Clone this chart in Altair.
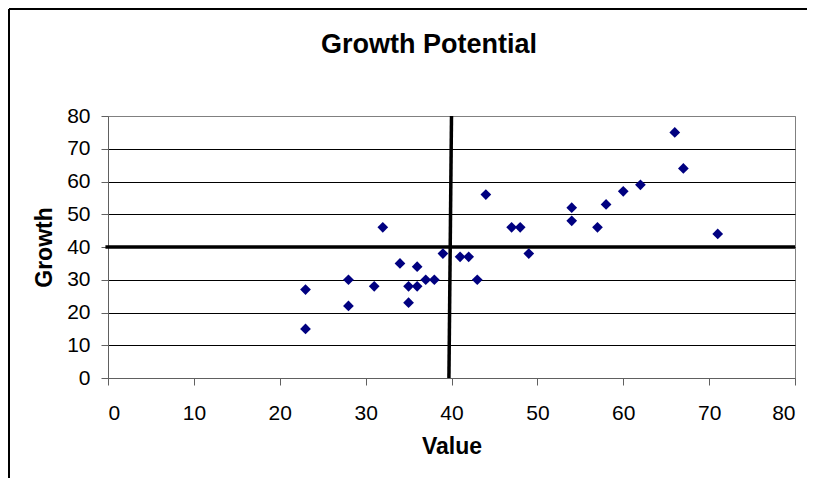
import altair as alt
import pandas as pd

# Data
value = [23, 23, 28, 28, 31, 32, 34, 36, 35, 36, 35, 37, 38, 39, 41, 42, 43, 44, 47, 48,
         49, 54, 54, 57, 58, 60, 62, 66, 67, 71]
growth = [27, 15, 30, 22, 28, 46, 35, 34, 28, 28, 23, 30, 30, 38, 37, 37, 30, 56, 46, 46,
          38, 52, 48, 46, 53, 57, 59, 75, 64, 44]
tick_values = [0, 10, 20, 30, 40, 50, 60, 70, 80]
chart_title = ["Growth Potential"]

# Quadrant reference lines
vline_x = [39.7, 40.0]
vline_y = [0, 80]
hline_x = [-0.3, 80]
hline_y = [40, 40]

FONT = "Liberation Sans"

df = pd.DataFrame({"Value": value, "Growth": growth})
vdf = pd.DataFrame({"Value": vline_x, "Growth": vline_y})
hdf = pd.DataFrame({"Value": hline_x, "Growth": hline_y})
tdf = pd.DataFrame({"t": chart_title})
one = pd.DataFrame({"a": [0]})

xscale = alt.Scale(domain=[0, 80], nice=False, zero=False)
yscale = alt.Scale(domain=[0, 80], nice=False, zero=False)

xaxis = alt.Axis(
    values=tick_values, grid=False, title="Value",
    labelFont=FONT, labelFontSize=21, labelColor="black", labelPadding=17,
    tickSize=7, tickColor="#606060", domainColor="#606060",
    titleFont=FONT, titleFontSize=23, titleFontWeight="bold", titleColor="black",
    titleY=68, titleBaseline="middle",
)
yaxis = alt.Axis(
    values=tick_values, grid=True, title="Growth",
    gridColor={"condition": {"test": "datum.value == 80 || datum.value == 0", "value": "#808080"},
               "value": "#000000"},
    gridWidth=1,
    labelFont=FONT, labelFontSize=21, labelColor="black", labelPadding=11,
    tickSize=7, tickColor="#606060", domainColor="#606060",
    titleFont=FONT, titleFontSize=23, titleFontWeight="bold", titleColor="black",
    titleX=-64, titleY=131, titleBaseline="middle", titleAngle=270,
)

enc = dict(
    x=alt.X("Value:Q", scale=xscale, axis=xaxis),
    y=alt.Y("Growth:Q", scale=yscale, axis=yaxis),
)

vline = alt.Chart(vdf).mark_line(color="black", strokeWidth=3.5).encode(**enc)
hline = alt.Chart(hdf).mark_line(color="black", strokeWidth=3.5).encode(**enc)
points = alt.Chart(df).mark_point(
    shape="diamond", filled=True, size=115, color="#000080", opacity=1
).encode(**enc)

title_text = alt.Chart(tdf).mark_text(
    font=FONT, fontSize=27, fontWeight="bold", color="black",
    align="center", baseline="alphabetic",
).encode(text="t:N", x=alt.value(321), y=alt.value(-63))

border_left = alt.Chart(one).mark_rule(color="black", strokeWidth=2).encode(
    x=alt.value(-99), y=alt.value(-107), y2=alt.value(400)
)
border_top = alt.Chart(one).mark_rule(color="black", strokeWidth=2).encode(
    x=alt.value(-99), x2=alt.value(720), y=alt.value(-107)
)

chart = alt.layer(vline, hline, points, title_text, border_left, border_top).properties(
    width=687,
    height=262,
    padding={"left": 100, "top": 108, "right": 12, "bottom": 100},
    autosize=alt.AutoSizeParams(type="none"),
    background="white",
).configure_view(stroke="#808080", strokeWidth=1)

chart.save("out.html", embed_options={"renderer": "svg", "actions": False})
